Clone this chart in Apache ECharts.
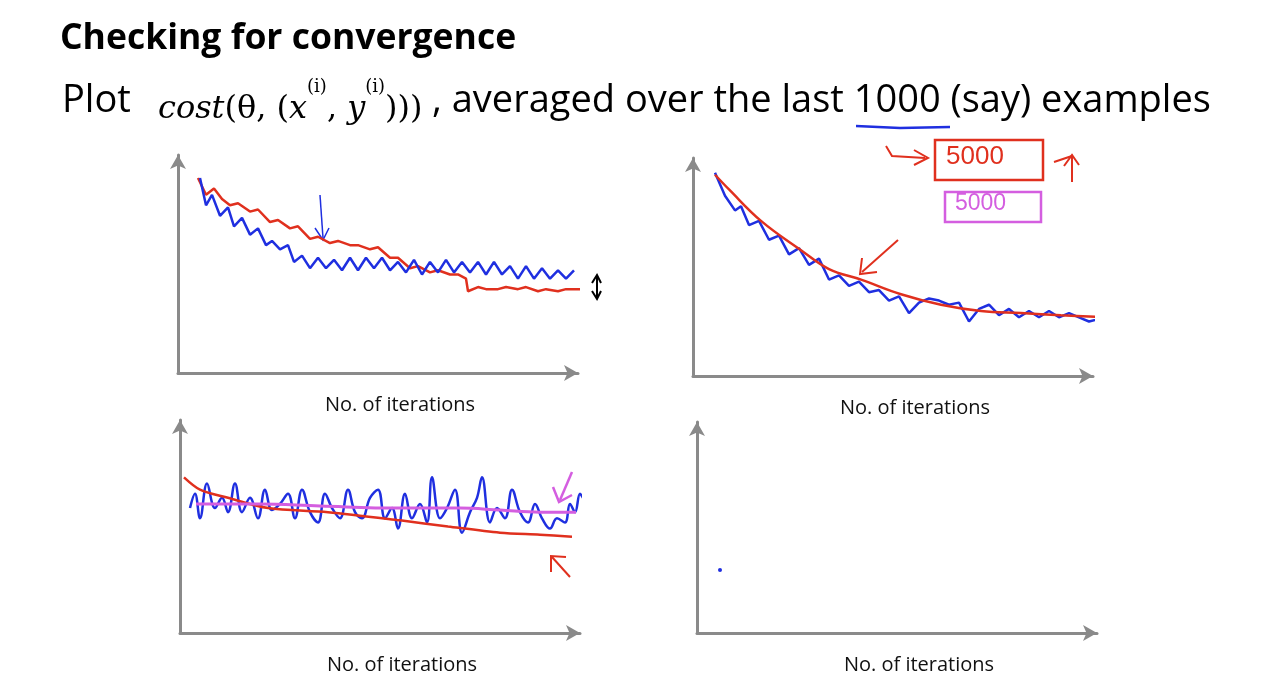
<!DOCTYPE html>
<html>
<head>
<meta charset="utf-8">
<script src="https://cdn.jsdelivr.net/npm/echarts@6/dist/echarts.min.js"></script>
<style>html,body{margin:0;padding:0;background:#fff}#main{width:1280px;height:676px}</style>
</head>
<body>
<div id="main"></div>
<script>
// hand-drawn curves, x: 0..100 along each axis, y: 0..100 up the axis
var tlBlue = [[5.5,93],[7,80],[8.5,85],[10.5,75],[12.5,79],[14,70],[16,74],[18,66],[20,69],[22,61],[23.5,63],[25.5,59],[27.5,61],[29,53],[31,56],[33,50],[35,55],[37,50],[39,54],[41,49],[43,55],[45,49],[47,55],[49,50],[51,55],[53,49],[55,53],[57,48],[59,54],[61,47],[63,53],[65,48],[67,54],[69,48],[71,53],[73,48],[75,53],[77,47],[79,53],[81,47],[83,51],[85,45],[87,51],[89,45],[91,50],[93,45],[95,49],[97,45],[99,49]];
var tlRed = [[5,93],[7,85],[9,88],[11,83],[13,80],[15,81],[18,77],[20,78],[23,72],[25,73],[28,69],[30,70],[33,64],[35,65],[38,62],[40,63],[43,61],[45,61],[48,59],[50,60],[53,55],[55,55],[58,50],[60,51],[63,48],[65,49],[68,47],[70,47],[72,45],[72.5,39],[75,41],[77,40],[80,40],[82,41],[85,40],[87,41],[90,39],[92,40],[95,39],[97,40],[100.5,40]];
var trBlue = [[5.5,97],[8,86],[10.5,79],[12,81],[14,72],[16.5,74],[19,65],[21.5,67],[24,58],[26.5,61],[29,53],[31.5,56],[34,46],[36.5,48],[39,43],[41.5,45],[44,40],[46.5,41],[49,36],[51.5,38],[54,30],[56.5,35],[59,37],[61.5,36],[64,34],[66.5,35],[69,26],[71.5,32],[74,34],[76.5,29],[79,32],[81.5,28],[84,31],[86.5,28],[89,31],[91.5,28],[94,30],[96.5,28],[99,26],[103,28]];
var trRed = [[5.5,96],[9,89],[17,74],[27,60],[34,51],[42,46],[52,39],[62,34],[72,31],[82,30],[92,29],[104,28]];
var blBlue = [[2.5,61],[3.75,68],[5,56],[6.75,73],[8.75,61],[10.5,66],[12,59],[13.75,73],[15.5,59],[17.5,66],[19.5,56],[21.25,70],[23,60],[25,63],[27,68],[28.75,56],[30.5,70],[32.5,59],[34.5,54],[36.25,68],[38,61],[40,56],[42,70],[43.75,59],[45.5,56],[47.5,66],[49.5,70],[51.25,56],[53,61],[54.5,51],[56.25,68],[58,56],[60,63],[61.75,54],[63,76],[65,56],[66.75,61],[68.75,70],[70.5,49],[72.5,59],[74.25,66],[75.5,76],[77.5,54],[79.25,61],[81.25,56],[83,70],[85,59],[87,54],[88.75,63],[90.5,56],[92.5,51],[94.25,56],[96.25,54],[97.5,63],[98.75,59],[100,68],[100.75,66]];
var blRed = [[1,76],[5,70],[12,66],[22,61],[37,59],[55,55],[67,52],[80,49],[90,48],[98,47]];
var blPink = [[4,63],[20,63],[35,62],[55,61],[70,61],[80,60],[90,59],[99,59]];
var axisLabel = 'No. of iterations';

var chart = echarts.init(document.getElementById('main'));
var grids = [
  {left: 178, top: 155, width: 400, height: 218},
  {left: 693, top: 158, width: 400, height: 218},
  {left: 180, top: 420, width: 400, height: 218},
  {left: 697, top: 422, width: 400, height: 218}
];
var axLine = {show: true, symbol: ['none', 'arrow'], symbolSize: [12, 14], lineStyle: {color: '#8a8a8a', width: 3}};
var xAxes = [], yAxes = [];
grids.forEach(function (g, i) {
  xAxes.push({type: 'value', gridIndex: i, min: 0, max: 100, axisLine: axLine, axisTick: {show: false}, axisLabel: {show: false}, splitLine: {show: false},
    name: axisLabel, nameLocation: 'middle', nameGap: 22, nameTextStyle: {fontFamily: 'Open Sans', fontSize: 20, color: '#111', padding: [0, 0, 0, 44]}});
  yAxes.push({type: 'value', gridIndex: i, min: 0, max: 104, axisLine: axLine, axisTick: {show: false}, axisLabel: {show: false}, splitLine: {show: false}});
});
function line(data, idx, color, w, smooth) {
  return {type: 'line', data: data, xAxisIndex: idx, yAxisIndex: idx, showSymbol: false, clip: false, smooth: smooth || 0,
    lineStyle: {color: color, width: w}, animation: false};
}
var blue = '#1f2fe0', red = '#e0301e', pink = '#d45ee0';
var serif = 'DejaVu Serif';
option = {
  animation: false,
  grid: grids,
  xAxis: xAxes,
  yAxis: yAxes,
  series: [
    line(tlRed, 0, red, 2.5), line(tlBlue, 0, blue, 2.5),
    line(trBlue, 1, blue, 2.5), line(trRed, 1, red, 2.5, 0.4),
    line(blBlue, 2, blue, 2.5, 0.4), line(blRed, 2, red, 2.5, 0.3), line(blPink, 2, pink, 3, 0.4)
  ],
  graphic: [
    {type: 'text', left: 60, top: 21, style: {text: 'Checking for convergence', font: 'bold 35.5px "Open Sans"', fill: '#000'}},
    {type: 'text', left: 62, top: 82, style: {text: 'Plot', font: '38px "Open Sans"', fill: '#000'}},
    {type: 'text', left: 158, top: 78, style: {
      text: '{it|cost}{n|(θ, (}{it|x}{s|(i)}{n|, }{it|y}{s|(i)}{n|)))}',
      rich: {
        it: {fontFamily: serif, fontStyle: 'italic', fontSize: 32, fill: '#000', lineHeight: 48, verticalAlign: 'bottom'},
        n: {fontFamily: serif, fontSize: 32, fill: '#000', lineHeight: 48, verticalAlign: 'bottom'},
        s: {fontFamily: serif, fontSize: 18, fill: '#000', lineHeight: 48, verticalAlign: 'top'}
      }}},
    {type: 'text', left: 432, top: 82, style: {text: ', averaged over the last 1000 (say) examples', font: '38px "Open Sans"', fill: '#000'}},
    {type: 'polyline', shape: {points: [[856, 126], [900, 128], [950, 127]]}, style: {stroke: blue, lineWidth: 2.5, fill: null}},
    // top-left blue arrow
    {type: 'polyline', shape: {points: [[320, 195], [323, 238]]}, style: {stroke: blue, lineWidth: 1.5, fill: null}},
    {type: 'polyline', shape: {points: [[315, 228], [323, 240], [329, 228]]}, style: {stroke: blue, lineWidth: 1.5, fill: null}},
    // black double arrow
    {type: 'polyline', shape: {points: [[597, 277], [597, 297]]}, style: {stroke: '#000', lineWidth: 2, fill: null}},
    {type: 'polyline', shape: {points: [[592, 283], [597, 275], [601, 283]]}, style: {stroke: '#000', lineWidth: 2, fill: null}},
    {type: 'polyline', shape: {points: [[592, 291], [597, 299], [601, 291]]}, style: {stroke: '#000', lineWidth: 2, fill: null}},
    // top-right red arrow
    {type: 'polyline', shape: {points: [[898, 240], [862, 272]]}, style: {stroke: red, lineWidth: 2, fill: null}},
    {type: 'polyline', shape: {points: [[862, 258], [860, 274], [877, 272]]}, style: {stroke: red, lineWidth: 2, fill: null}},
    // red 5000 box
    {type: 'rect', shape: {x: 935, y: 140, width: 108, height: 40}, style: {stroke: red, lineWidth: 2.5, fill: null}},
    {type: 'text', left: 946, top: 144, style: {text: '5000', font: '26px "Liberation Sans"', fill: red}},
    {type: 'polyline', shape: {points: [[886, 146], [892, 156], [925, 158]]}, style: {stroke: red, lineWidth: 2, fill: null}},
    {type: 'polyline', shape: {points: [[914, 150], [928, 158], [914, 165]]}, style: {stroke: red, lineWidth: 2, fill: null}},
    {type: 'polyline', shape: {points: [[1072, 182], [1072, 156], [1054, 162]]}, style: {stroke: red, lineWidth: 2, fill: null}},
    {type: 'polyline', shape: {points: [[1064, 166], [1072, 155], [1079, 165]]}, style: {stroke: red, lineWidth: 2, fill: null}},
    // magenta 5000 box
    {type: 'rect', shape: {x: 945, y: 192, width: 96, height: 30}, style: {stroke: pink, lineWidth: 2.5, fill: null}},
    {type: 'text', left: 955, top: 192, style: {text: '5000', font: '23px "Liberation Sans"', fill: pink}},
    // bottom-left arrows
    {type: 'polyline', shape: {points: [[572, 472], [560, 500]]}, style: {stroke: pink, lineWidth: 2.5, fill: null}},
    {type: 'polyline', shape: {points: [[553, 487], [559, 502], [572, 495]]}, style: {stroke: pink, lineWidth: 2.5, fill: null}},
    {type: 'polyline', shape: {points: [[570, 577], [552, 557]]}, style: {stroke: red, lineWidth: 2, fill: null}},
    {type: 'polyline', shape: {points: [[551, 572], [551, 556], [566, 557]]}, style: {stroke: red, lineWidth: 2, fill: null}},
    {type: 'circle', shape: {cx: 720, cy: 570, r: 2}, style: {fill: blue}}
  ]
};
chart.setOption(option);
</script>
</body>
</html>
